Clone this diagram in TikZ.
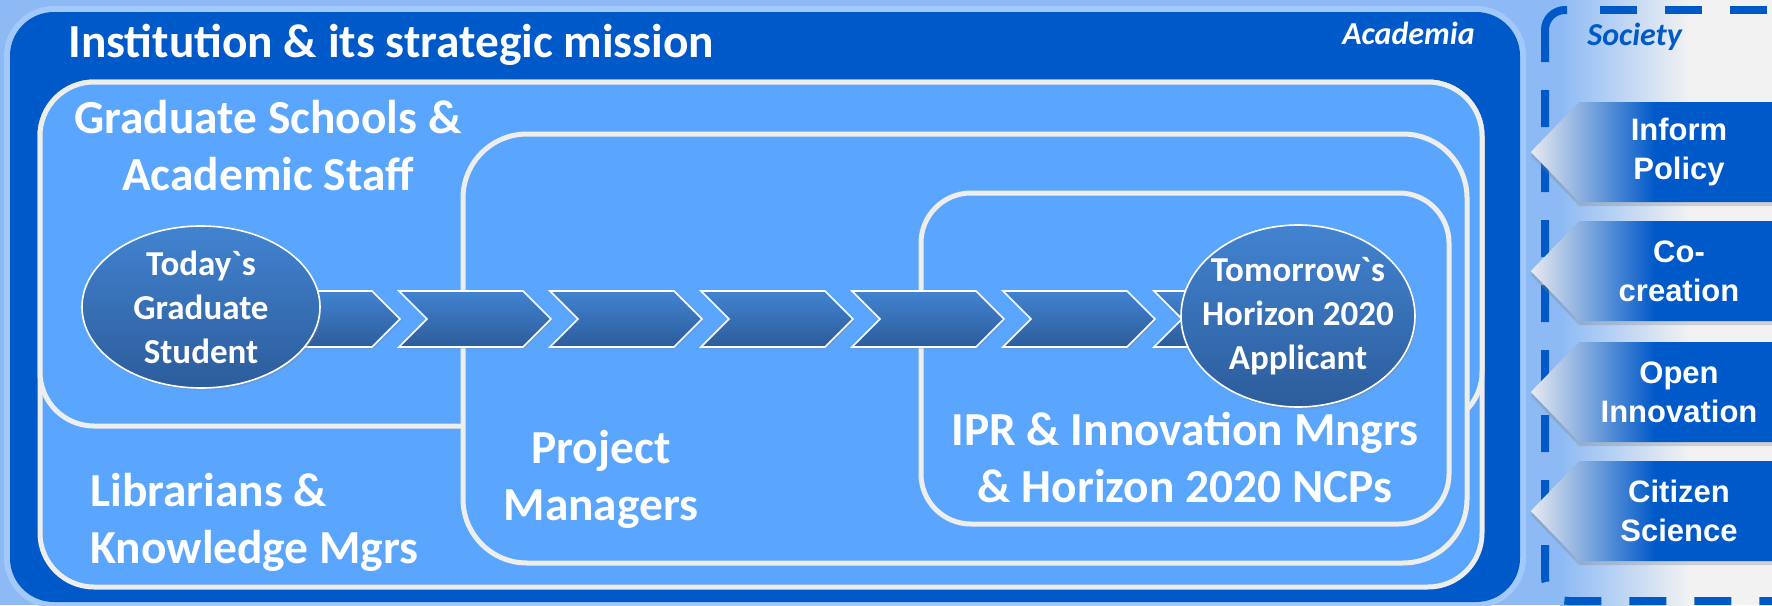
\documentclass[tikz,border=0pt]{standalone}
\usepackage{fontspec}
\setmainfont{Carlito}
\newfontfamily\arialfont{Liberation Sans}
\usepackage{tikz}
\usetikzlibrary{shapes.geometric,shapes.symbols,shadows}

\definecolor{skyback}{HTML}{8DBAF5}
\definecolor{greyback}{HTML}{F2F2F2}
\definecolor{halo}{HTML}{A2C9FA}
\definecolor{deepblue}{HTML}{0059C8}
\definecolor{boxblue}{HTML}{5AA5FE}
\definecolor{boxline}{HTML}{EEEEEE}
\definecolor{bubbletop}{HTML}{4283D0}
\definecolor{bubblebot}{HTML}{2C5C9B}
\definecolor{tipgrey}{HTML}{E8EAF0}

\tikzstyle{panel} = [fill=boxblue, draw=boxline, line width=2.5pt]
\tikzstyle{bigtext} = [text=white, inner sep=0pt, font=\bfseries\fontsize{23.7}{28.5}\selectfont]
\tikzstyle{tag} = [inner sep=0pt, font=\bfseries\itshape\fontsize{16}{19}\selectfont]
\tikzstyle{bubble} = [ellipse, draw=white, line width=0.8pt, top color=bubbletop, bottom color=bubblebot, text=white, align=center, inner xsep=-8pt, inner ysep=-2pt, font=\bfseries\fontsize{17.5}{22}\selectfont, drop shadow={shadow xshift=0.8pt, shadow yshift=-1.2pt, opacity=0.25}]
\tikzstyle{chevron} = [signal, signal from=west, signal to=east, signal pointer angle=90, draw=white, line width=0.8pt, top color=bubbletop, bottom color=bubblebot, minimum width=76pt, minimum height=28pt, inner sep=0pt, drop shadow={shadow xshift=0.8pt, shadow yshift=-1pt, opacity=0.25}]
\tikzstyle{voice} = [signal, signal to=west, signal pointer angle=92, left color=tipgrey, right color=deepblue, middle color=deepblue, minimum width=124pt, minimum height=50pt, inner sep=0pt, text=white, align=center, font=\arialfont\bfseries\fontsize{15.5}{19.5}\selectfont, drop shadow={shadow xshift=0pt, shadow yshift=-2pt, opacity=0.3}]
\tikzstyle{dashline} = [deepblue, line width=4pt, dash pattern=on 18.5pt off 14pt]

\begin{document}
\begin{tikzpicture}[x=0.5pt, y=-0.5pt]

            \useasboundingbox (0,0) rectangle (1772,605);

            %% background
            \fill [skyback] (0,0) rectangle (1772,605);
            \shade [left color=skyback, right color=greyback] (1560,0) rectangle (1690,605);
            \fill [greyback] (1690,0) rectangle (1772,605);

            %% Society
            \draw [dashline, dash phase=16pt] (1800,10) -- (1598,10);
            \draw [deepblue, line width=4pt, rounded corners=10pt] (1567,10) -- (1545,10) -- (1545,62);
            \draw [dashline, rounded corners=12pt] (1545,90) -- (1545,601) -- (1800,601);

            \node (society) [tag, text=deepblue, anchor=base west] at (1587,45) {Society};

            \node (policy) [voice] at (1679,152) {Inform\\Policy};
            \node (cocreation) [voice] at (1679,271) {Co-\\creation};
            \node (openinno) [voice] at (1679,392) {Open\\Innovation};
            \node (citizen) [voice] at (1679,511) {Citizen\\Science};

            %% Academia
            \fill [halo, rounded corners=25pt] (4,6) rectangle (1526,608);
            \fill [deepblue, rounded corners=22pt] (10,12) rectangle (1520,602);

            \node (mission) [bigtext, anchor=base west] at (68,57) {Institution \& its strategic mission};
            \node (academia) [tag, text=white, anchor=base east] at (1475,44) {Academia};

            \draw [panel, rounded corners=27pt] (40,82) rectangle (1482,587);
            \draw [panel, rounded corners=27pt] (40,82) rectangle (1482,426);
            \draw [panel, rounded corners=32pt] (463,134) rectangle (1467,563);
            \draw [panel, rounded corners=25pt] (921,193) rectangle (1449,524);

            \node (gradschool) [bigtext, align=center, anchor=base] at (268,190) {Graduate Schools \&\\Academic Staff};
            \node (librarians) [bigtext, align=left, anchor=base west] at (90,563) {Librarians \&\\Knowledge Mgrs};
            \node (projmgr) [bigtext, align=center, anchor=base] at (601,520) {Project\\Managers};
            \node (iprmgr) [bigtext, align=center, anchor=base] at (1185,502) {IPR \& Innovation Mngrs\\\& Horizon 2020 NCPs};

            %% pipeline
            \node (link1) [chevron] at (324,319) {};
            \node (link2) [chevron] at (475,319) {};
            \node (link3) [chevron] at (626,319) {};
            \node (link4) [chevron] at (777,319) {};
            \node (link5) [chevron] at (928,319) {};
            \node (link6) [chevron] at (1079,319) {};
            \node (link7) [chevron] at (1230,319) {};

            \node (today) [bubble, minimum width=119pt, minimum height=81pt] at (201,307) {Today\textasciigrave s\\Graduate\\Student};
            \node (tomorrow) [bubble, minimum width=117pt, minimum height=91pt] at (1298,316) {Tomorrow\textasciigrave s\\Horizon 2020\\Applicant};

\end{tikzpicture}
\end{document}
